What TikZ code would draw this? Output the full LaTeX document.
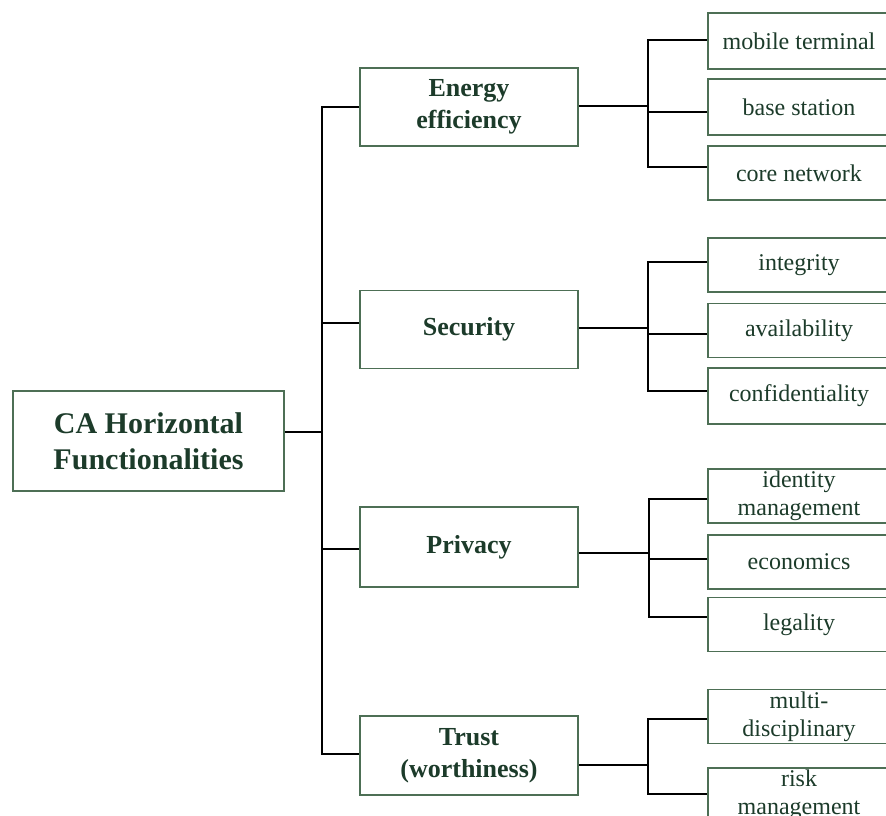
\documentclass[tikz,border=0pt]{standalone}
\usepackage{fontspec}
\setmainfont{Liberation Serif}
\definecolor{boxtext}{HTML}{1C3B2A}
\definecolor{boxline}{HTML}{4D6F55}
\begin{document}
\begin{tikzpicture}[x=1pt,y=-1pt,
  box/.style={draw=boxline, line width=1.6pt, fill=white, text=boxtext,
    inner sep=0pt, align=center},
  rootbox/.style={box, minimum width=271pt, minimum height=100pt,
    font=\fontsize{30}{36}\selectfont\bfseries},
  topicbox/.style={box, minimum width=218pt, minimum height=78pt,
    font=\fontsize{26}{32}\selectfont\bfseries},
  leafbox/.style={box, minimum width=182pt, minimum height=54pt,
    font=\fontsize{24}{28}\selectfont},
  wire/.style={draw=black, line width=1.5pt}]
\useasboundingbox (0,0) rectangle (886,815);
\clip (0,0) rectangle (886,815);

% root
\node[rootbox] (root) at (148.5,441) {CA Horizontal\\Functionalities};

% functionality groups
\node[topicbox] (energy)   at (469,107)   {Energy\\efficiency};
\node[topicbox] (security) at (469,329.5) {Security};
\node[topicbox, minimum height=80pt] (privacy) at (469,547) {Privacy};
\node[topicbox, minimum height=79pt] (trust)   at (469,755.5) {Trust\\(worthiness)};

% leaves
\node[leafbox, minimum height=56pt] (mobile) at (799,41)  {mobile terminal};
\node[leafbox, minimum height=56pt] (base)   at (799,107) {base station};
\node[leafbox] (core)   at (799,173)   {core network};
\node[leafbox] (integ)  at (799,265)   {integrity};
\node[leafbox] (avail)  at (799,330.5) {availability};
\node[leafbox, minimum height=56pt] (conf) at (799,396) {confidentiality};
\node[leafbox] (ident)  at (799,496)   {identity\\management};
\node[leafbox] (econ)   at (799,562)   {economics};
\node[leafbox] (legal)  at (799,624.5) {legality};
\node[leafbox] (multi)  at (799,716.5) {multi-\\disciplinary};
\node[leafbox] (risk)   at (799,795)   {risk\\management};

% trunk from the root to the groups
\coordinate (trunk) at (322,432);
\draw[wire] (energy.west) -| (trunk) |- ([yshift=1.5pt]trust.west);
\draw[wire] ([yshift=9pt]root.east) -- (trunk);
\draw[wire] ([yshift=6.5pt]security.west) -- ++(-38,0);
\draw[wire] ([yshift=-2pt]privacy.west) -- ++(-38,0);

% energy efficiency branch
\coordinate (ebus) at (648,106);
\draw[wire] ([yshift=1pt]mobile.west) -| (ebus) |- ([yshift=6pt]core.west);
\draw[wire] ([yshift=1pt]energy.east) -- (ebus);
\draw[wire] ([yshift=-5pt]base.west) -- ++(-60,0);

% security branch
\coordinate (sbus) at (648,328);
\draw[wire] ([yshift=3pt]integ.west) -| (sbus) |- ([yshift=5pt]conf.west);
\draw[wire] ([yshift=1.5pt]security.east) -- (sbus);
\draw[wire] ([yshift=-3.5pt]avail.west) -- ++(-60,0);

% privacy branch
\coordinate (pbus) at (649,553);
\draw[wire] ([yshift=-3pt]ident.west) -| (pbus) |- ([yshift=7.5pt]legal.west);
\draw[wire] ([yshift=-6pt]privacy.east) -- (pbus);
\draw[wire] ([yshift=3pt]econ.west) -- ++(-59,0);

% trust branch
\coordinate (tbus) at (648,765);
\draw[wire] ([yshift=-2.5pt]multi.west) -| (tbus) |- ([yshift=1pt]risk.west);
\draw[wire] ([yshift=-9.5pt]trust.east) -- (tbus);
\end{tikzpicture}
\end{document}
